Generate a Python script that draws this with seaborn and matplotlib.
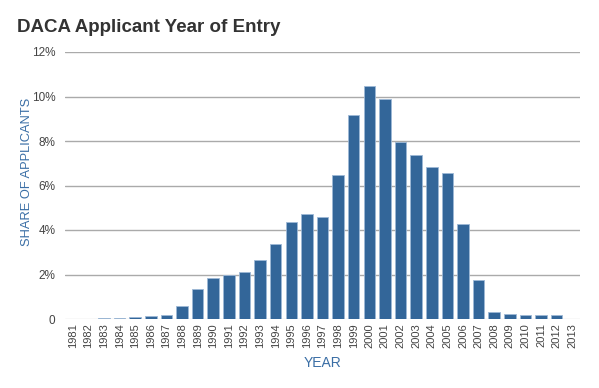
import matplotlib
matplotlib.use("Agg")
import matplotlib.pyplot as plt
import seaborn as sns
import pandas as pd

years = [str(y) for y in range(1981, 2014)]
shares = [0.01, 0.01, 0.03, 0.05, 0.08, 0.12, 0.20, 0.58, 1.37, 1.83,
          1.97, 2.13, 2.63, 3.36, 4.37, 4.70, 4.58, 6.49, 9.15, 10.49,
          9.87, 7.96, 7.36, 6.85, 6.55, 4.27, 1.75, 0.30, 0.24, 0.17,
          0.17, 0.18, 0.01]
ytick_vals = [0, 2, 4, 6, 8, 10, 12]
ytick_labels = ["0", "2%", "4%", "6%", "8%", "10%", "12%"]

df = pd.DataFrame({"year": years, "share": shares})

sns.set_theme(style="white")
plt.rcParams["font.family"] = ["Liberation Sans", "DejaVu Sans"]

fig = plt.figure(figsize=(5.99, 3.88), dpi=100)
ax = fig.add_axes([65/599, 1-319/388, 515/599, 267/388])

for v in ytick_vals:
    ax.axhline(v, color="#dddddd" if v == 0 else "#aaaaaa", lw=1.0, zorder=0)

sns.barplot(data=df, x="year", y="share", ax=ax, color="#336699",
            saturation=1, width=0.74, edgecolor="#9db8d6", linewidth=0.6, zorder=2)

ax.set_xlim(-0.5, len(years) - 0.5)
ax.set_ylim(0, 12)
ax.set_yticks(ytick_vals)
ax.set_yticklabels(ytick_labels)
ax.tick_params(axis="y", length=0, pad=7, labelsize=8.5, labelcolor="#444444")
ax.tick_params(axis="x", length=0, pad=3, labelsize=8, labelcolor="#444444", rotation=90)
for s in ax.spines.values():
    s.set_visible(False)
ax.grid(False)

ax.set_xlabel("YEAR", color="#3a6ea5", fontsize=10, labelpad=6)
ax.set_ylabel("SHARE OF APPLICANTS", color="#3a6ea5", fontsize=9.3)
ax.yaxis.set_label_coords(-0.062, 0.55)

fig.text(17/599, 1-27/388, "DACA Applicant Year of Entry", fontsize=13.5,
         fontweight="bold", color="#333333", va="center", ha="left")

fig.savefig("out.png", dpi=100)
